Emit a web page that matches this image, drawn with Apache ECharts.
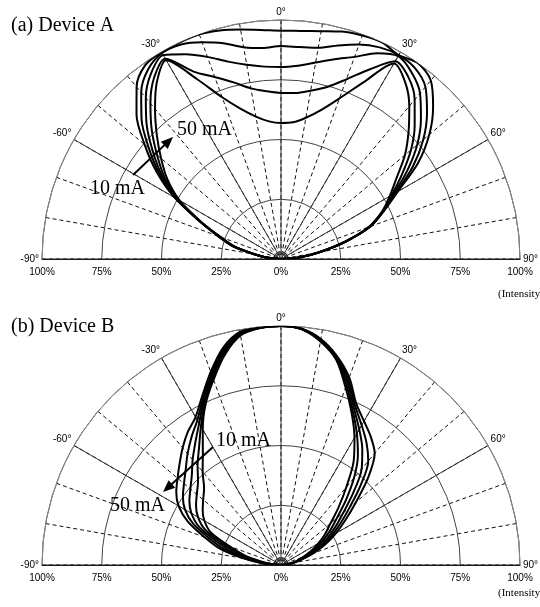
<!DOCTYPE html>
<html><head><meta charset="utf-8">
<script src="https://cdn.jsdelivr.net/npm/echarts@6/dist/echarts.min.js"></script>
<style>html,body{margin:0;padding:0;background:#fff}#c{width:540px;height:607px}</style>
</head><body><div id="c"></div>
<script>
// ---------- data ----------
const ANGLES = [-90,-85,-80,-75,-70,-65,-60,-55,-50,-45,-40,-35,-30,-25,-20,-15,-10,-5,0,5,10,15,20,25,30,35,40,45,50,55,60,65,70,75,80,85,90];
const CURRENTS = ['10 mA','20 mA','30 mA','40 mA','50 mA'];
const RADIAL_TICKS = [-100,-75,-50,-25,0,25,50,75,100];
const ANGLE_TICK_STEP = 30;

// Device A (relative intensity %, one value per angle)
const A_10mA = [0,5,11,21,28,38,51.5,63.5,74.5,85.5,94,99,100,100,100,99,97.5,96.2,95.5,95.8,96.8,98.5,99.5,100,98.5,100,97.5,90,81,70,56.5,47.5,40,28,16.5,8,0];
const A_20mA = [0,5,11,21,28,37.8,50.9,62.1,72.2,82.5,91,96.9,99.5,99,96.5,93.5,90,88.6,89.1,89,89.7,92.5,95.5,97.7,98.5,97.6,94,86.4,77.7,67.3,55.5,47.2,39.8,27.9,16.4,7.9,0];
const A_30mA = [0,5,11,20.5,27.5,37.5,50.3,60.8,70,79.5,88,94.8,98.5,94.5,90,85.5,82.5,80.8,80.3,81.2,83.5,86.5,90,95,98,95.3,90.5,82.8,74.4,64.5,54.5,47,39.5,27.8,16.3,7.8,0];
const A_40mA = [0,5,11,20,27,37.2,49.6,59.4,67.7,76.5,85,92.6,96.8,86.5,81,76.5,72.5,70.5,69.5,69.7,71.5,74.5,80,87.5,95.5,92.9,87,79.1,71,61.8,53.5,46.7,39.2,27.6,16.1,7.6,0];
const A_50mA = [0,5,11,20,27,37,49,58,65.5,73.5,82,90.5,96,83,72,65,60.5,57.8,56.9,57.4,60,64.5,71.5,81.5,94.5,90.5,83.5,75.5,67.7,59,52.5,46.5,39,27.5,16,7.5,0];

// Device B
const B_10mA = [0,3.5,8.5,16,23,32.5,37,40,42.5,45.5,51,57,65.5,74.5,82.5,91,97.5,99.5,100,99,95,89,79,70,61.5,53,42.5,34,27,22.5,18,14,10,7,5,2,0];
const B_20mA = [0,4.5,10.4,18.6,25.8,35.1,40.1,43.4,46,49.1,54.3,59.8,67,75.4,83.4,91.8,97.9,99.6,100,99.1,95.3,89.4,80.1,71.1,63.5,56.1,47.5,38.4,30.5,25.1,20.1,15.6,11.1,7.5,5,2,0];
const B_30mA = [0,5.5,12.3,21.3,28.5,37.8,43.3,46.8,49.5,52.8,57.5,62.5,68.5,76.3,84.3,92.5,98.3,99.7,100,99.1,95.5,89.8,81.3,72.3,65.5,59.3,52.5,42.8,34,27.8,22.3,17.3,12.3,8,5,2,0];
const B_40mA = [0,6.5,14.1,23.9,31.3,40.4,46.4,50.1,53,56.4,60.8,65.3,70,77.1,85.1,93.3,98.6,99.7,100,99.2,95.8,90.1,82.4,73.4,67.5,62.4,56.8,47.1,37.5,30.4,24.4,18.9,13.4,8.5,5,2,0];
const B_50mA = [0,7.5,16,26.5,34,43,49.5,53.5,56.5,60,64,68,71.5,78,86,94,99,99.8,100,99.2,96,90.5,83.5,74.5,69.5,65.5,61,51.5,41,33,26.5,20.5,14.5,9,5,2,0];

const DEVICES = [
  {title: '(a) Device A', curves: [A_10mA, A_20mA, A_30mA, A_40mA, A_50mA]},
  {title: '(b) Device B', curves: [B_10mA, B_20mA, B_30mA, B_40mA, B_50mA]}
];

// ---------- layout ----------
const CX = 281, R = 239;
const CENTER_Y = [259, 565];
const SANS = '"Liberation Sans", Arial, sans-serif';
const SERIF = '"Liberation Serif", "Times New Roman", serif';

const polar = [], angleAxis = [], radiusAxis = [], grid = [], xAxis = [], yAxis = [], series = [];
CENTER_Y.forEach((cy, i) => {
  // fine dashed radial grid (every 10 deg)
  polar.push({center: [CX, cy], radius: R});
  angleAxis.push({polarIndex: 2*i, type: 'value', min: -90, max: 90, interval: 10,
    startAngle: 180, endAngle: 0, clockwise: true, z: 0,
    axisLine: {show: false}, axisTick: {show: false}, axisLabel: {show: false},
    splitLine: {show: true, lineStyle: {color: '#111', width: 1, type: [4, 3]}}});
  radiusAxis.push({polarIndex: 2*i, type: 'value', min: 0, max: 100, interval: 25,
    axisLine: {show: false}, axisTick: {show: false}, axisLabel: {show: false}, splitLine: {show: false}});
  // main grid (every 30 deg, circles every 25%)
  polar.push({center: [CX, cy], radius: R});
  angleAxis.push({polarIndex: 2*i+1, type: 'value', min: -90, max: 90, interval: ANGLE_TICK_STEP,
    startAngle: 180, endAngle: 0, clockwise: true, z: 1,
    axisLine: {show: true, lineStyle: {color: '#888', width: 1}},
    axisTick: {show: false},
    axisLabel: {show: true, formatter: v => v + '°', fontSize: 10, color: '#000', fontFamily: SANS, margin: 3},
    splitLine: {show: true, lineStyle: {color: '#333', width: 1}}});
  radiusAxis.push({polarIndex: 2*i+1, type: 'value', min: 0, max: 100, interval: 25, z: 1,
    axisLine: {show: false}, axisTick: {show: false}, axisLabel: {show: false},
    splitLine: {show: true, lineStyle: {color: '#444', width: 1}}});
  // baseline with intensity labels
  grid.push({left: CX - R, width: 2*R, top: cy - R, height: R});
  xAxis.push({gridIndex: i, type: 'value', min: RADIAL_TICKS[0], max: RADIAL_TICKS[RADIAL_TICKS.length-1], interval: 25,
    axisLine: {show: true, lineStyle: {color: '#000', width: 1}}, axisTick: {show: false}, splitLine: {show: false},
    axisLabel: {formatter: v => Math.abs(v) + '%', fontSize: 10, color: '#000', fontFamily: SANS, margin: 8}});
  yAxis.push({gridIndex: i, type: 'value', min: 0, max: 100, show: false});

  DEVICES[i].curves.forEach((vals, k) => {
    series.push({
      name: DEVICES[i].title + ' ' + CURRENTS[k],
      type: 'line', coordinateSystem: 'polar', polarIndex: 2*i+1,
      data: ANGLES.map((a, j) => [vals[j], a]),
      showSymbol: false, smooth: 0.3, z: 5,
      lineStyle: {color: '#000', width: 2}
    });
  });
});

function arrow(x1, y1, x2, y2) {
  const dx = x2 - x1, dy = y2 - y1, L = Math.hypot(dx, dy);
  const ux = dx / L, uy = dy / L, hl = 12, hw = 5;
  const bx = x2 - ux*hl, by = y2 - uy*hl;
  return [
    {type: 'line', shape: {x1, y1, x2: bx + ux*2, y2: by + uy*2}, style: {stroke: '#000', lineWidth: 2}, z: 10},
    {type: 'polygon', shape: {points: [[x2, y2], [bx - uy*hw, by + ux*hw], [bx + uy*hw, by - ux*hw]]}, style: {fill: '#000'}, z: 10}
  ];
}
function txt(text, x, y, size, font, align) {
  return {type: 'text', x, y, z: 10, style: {text, font: size + 'px ' + font, fill: '#000', align: align || 'left', verticalAlign: 'middle'}};
}

const graphic = [
  txt(DEVICES[0].title, 11, 26, 20, SERIF),
  txt(DEVICES[1].title, 11, 327, 20, SERIF),
  txt('(Intensity)', 498, 294, 11, SERIF),
  txt('(Intensity)', 498, 593, 11, SERIF),
  txt(CURRENTS[4], 177, 130, 20, SERIF),
  txt(CURRENTS[0], 90, 189, 20, SERIF),
  ...arrow(133, 175, 173, 137),
  txt(CURRENTS[0], 216, 441, 20, SERIF),
  txt(CURRENTS[4], 110, 506, 20, SERIF),
  ...arrow(213, 447, 163, 492)
];

const chart = echarts.init(document.getElementById('c'), null, {renderer: 'canvas'});
chart.setOption({
  backgroundColor: '#fff',
  animation: false,
  polar, angleAxis, radiusAxis, grid, xAxis, yAxis, series, graphic
});
</script>
</body></html>
